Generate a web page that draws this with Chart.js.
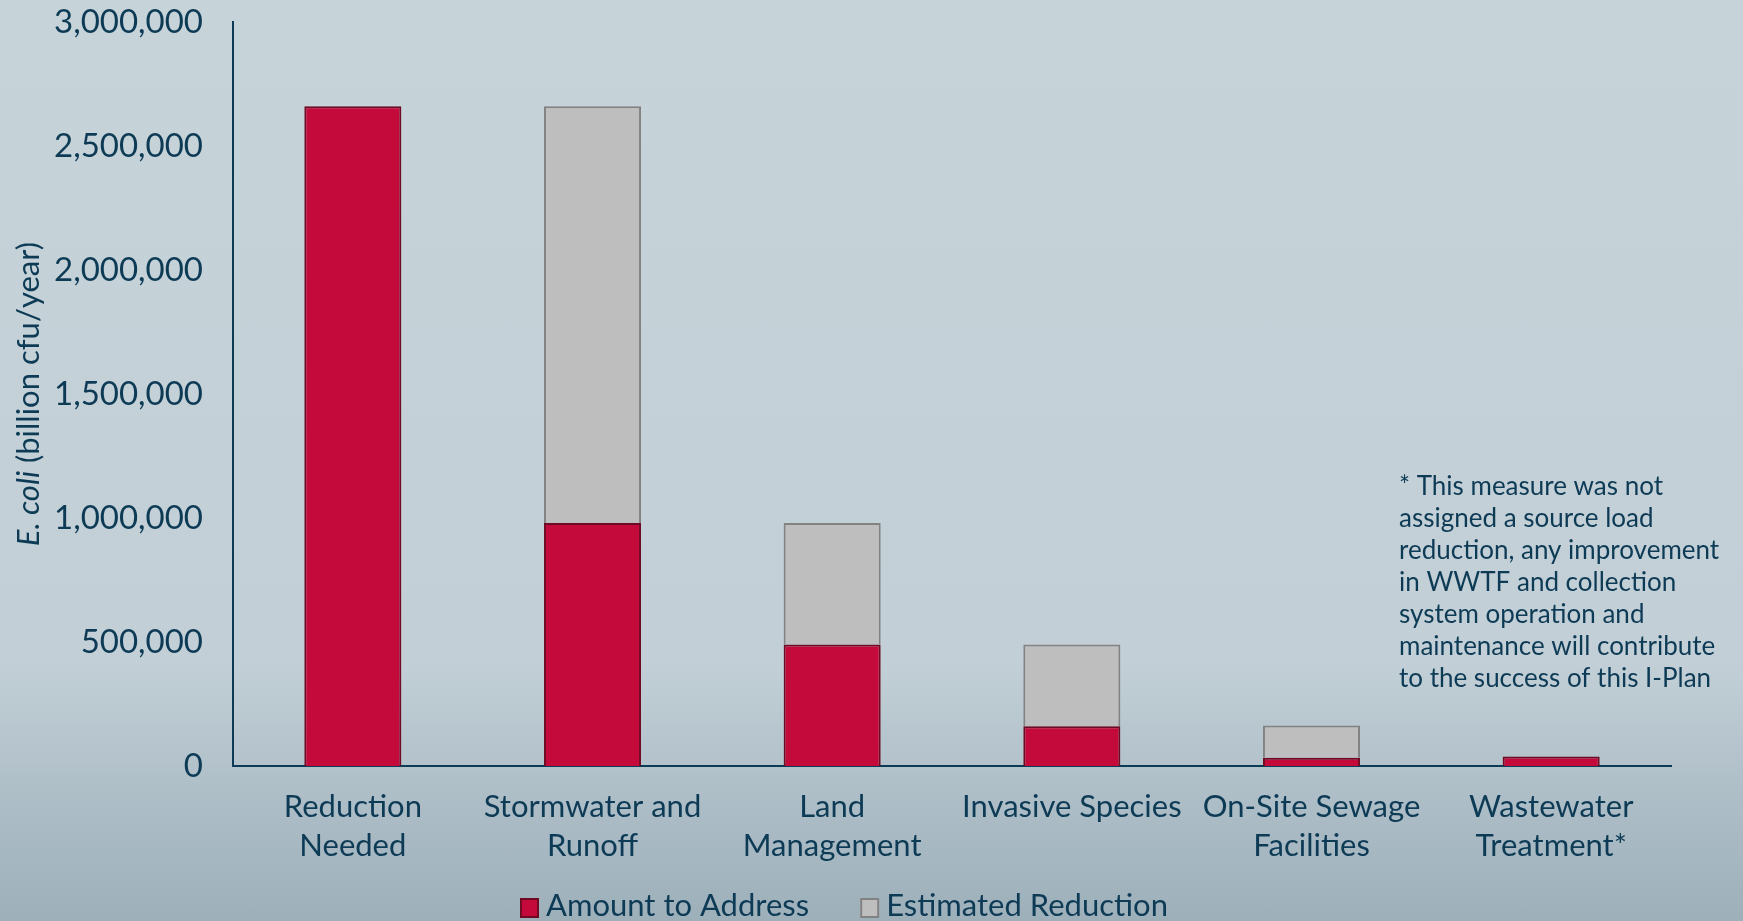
<!DOCTYPE html>
<html lang="en">
    <head>
        <title>E. coli Load Reduction</title>
        <script src="https://cdn.jsdelivr.net/npm/chart.js"></script>
        <style>
            html, body { margin: 0; padding: 0; }
            body {
                width: 1743px; height: 921px; overflow: hidden;
                background: linear-gradient(to bottom, #c6d3d9 0%, #c2cfd6 72%, #a9bac4 90%, #9db0ba 100%);
            }
            #wrap { width: 1743px; height: 921px; position: relative; }
        </style>
    </head>
    <body>
        <div id="wrap"><canvas id="loadChart"></canvas></div>
        <script>
            // categories and values (billion cfu/year)
            const categories = [
              ['Reduction', 'Needed'],
              ['Stormwater and', 'Runoff'],
              ['Land', 'Management'],
              ['Invasive Species'],
              ['On-Site Sewage', 'Facilities'],
              ['Wastewater', 'Treatment*']
            ];
            const amountToAddress = [2660000, 980000, 490000, 160000, 33000, 38000];
            const estimatedReduction = [0, 1680000, 490000, 330000, 130000, 0];
            const yTicks = [0, 500000, 1000000, 1500000, 2000000, 2500000, 3000000];
            const noteLines = [
              '* This measure was not',
              'assigned a source load',
              'reduction, any improvement',
              'in WWTF and collection',
              'system operation and',
              'maintenance will contribute',
              'to the success of this I-Plan'
            ];

            const textColor = '#0d3a55';
            const fontFamily = 'Lato, "Open Sans", sans-serif';

            // y title (mixed italic), footnote and legend
            const extraText = {
              id: 'extraText',
              afterDraw(chart) {
                const c = chart.ctx;
                c.save();
                c.fillStyle = textColor;
                // y axis title
                c.translate(29, 394);
                c.rotate(-Math.PI / 2);
                c.textBaseline = 'middle';
                const italic = 'italic 31px ' + fontFamily;
                const normal = '31px ' + fontFamily;
                c.font = italic;
                const w1 = c.measureText('E. coli').width;
                c.font = normal;
                const w2 = c.measureText(' (billion cfu/year)').width;
                let x = -(w1 + w2) / 2;
                c.font = italic;
                c.textAlign = 'left';
                c.fillText('E. coli', x, 0);
                c.font = normal;
                c.fillText(' (billion cfu/year)', x + w1, 0);
                c.restore();

                // footnote
                c.save();
                c.fillStyle = textColor;
                c.font = '26px ' + fontFamily;
                c.textBaseline = 'middle';
                c.textAlign = 'left';
                noteLines.forEach((line, i) => {
                  c.fillText(line, 1399, 487 + i * 32);
                });
                c.restore();

                // legend
                c.save();
                c.font = '31px ' + fontFamily;
                c.textBaseline = 'middle';
                c.textAlign = 'left';
                let lx = 520;
                chart.data.datasets.forEach(ds => {
                  c.fillStyle = ds.backgroundColor;
                  c.strokeStyle = ds.borderColor;
                  c.lineWidth = 2;
                  c.fillRect(lx, 898, 19, 20);
                  c.strokeRect(lx + 1, 899, 17, 18);
                  c.fillStyle = textColor;
                  c.fillText(ds.label, lx + 26, 906);
                  lx += 26 + c.measureText(ds.label).width + 51;
                });
                c.restore();
              }
            };

            const ctx = document.getElementById('loadChart').getContext('2d');

            const chartConfig = {
              type: 'bar',
              data: {
                labels: categories,
                datasets: [
                  {
                    label: 'Amount to Address',
                    data: amountToAddress,
                    backgroundColor: '#c40a3a',
                    borderColor: '#6e0a24',
                    borderWidth: 2,
                    borderSkipped: 'bottom',
                    categoryPercentage: 1,
                    barPercentage: 0.405,
                    stack: 'load'
                  },
                  {
                    label: 'Estimated Reduction',
                    data: estimatedReduction,
                    backgroundColor: '#bebebe',
                    borderColor: '#828282',
                    borderWidth: 2,
                    borderSkipped: 'bottom',
                    categoryPercentage: 1,
                    barPercentage: 0.405,
                    stack: 'load'
                  }
                ]
              },
              options: {
                responsive: false,
                animation: false,
                layout: { padding: { top: 0, right: 72, left: 0, bottom: 0 } },
                plugins: {
                  tooltip: { enabled: false },
                  legend: { display: false }
                },
                scales: {
                  x: {
                    stacked: true,
                    grid: { display: false, drawTicks: false },
                    border: { display: true, color: '#0d3a55', width: 2 },
                    ticks: {
                      color: textColor,
                      font: { family: fontFamily, size: 31, lineHeight: 1.26 },
                      padding: 21,
                      maxRotation: 0,
                      autoSkip: false
                    },
                    afterFit(scale) { scale.height = 155; }
                  },
                  y: {
                    stacked: true,
                    min: 0,
                    max: 3000000,
                    afterBuildTicks(scale) {
                      scale.ticks = yTicks.map(v => ({ value: v }));
                    },
                    grid: { display: false, drawTicks: false },
                    border: { display: true, color: '#0d3a55', width: 2 },
                    ticks: {
                      color: textColor,
                      font: { family: fontFamily, size: 33 },
                      padding: 30,
                      callback: v => v.toLocaleString('en-US')
                    },
                    afterFit(scale) {
                      scale.width = 233;
                      scale.paddingTop = 22;
                      scale.paddingBottom = 0;
                    }
                  }
                }
              },
              plugins: [extraText]
            };

            const canvas = document.getElementById('loadChart');
            canvas.width = 1743;
            canvas.height = 921;
            const loadChart = new Chart(ctx, chartConfig);
        </script>
    </body>
</html>
